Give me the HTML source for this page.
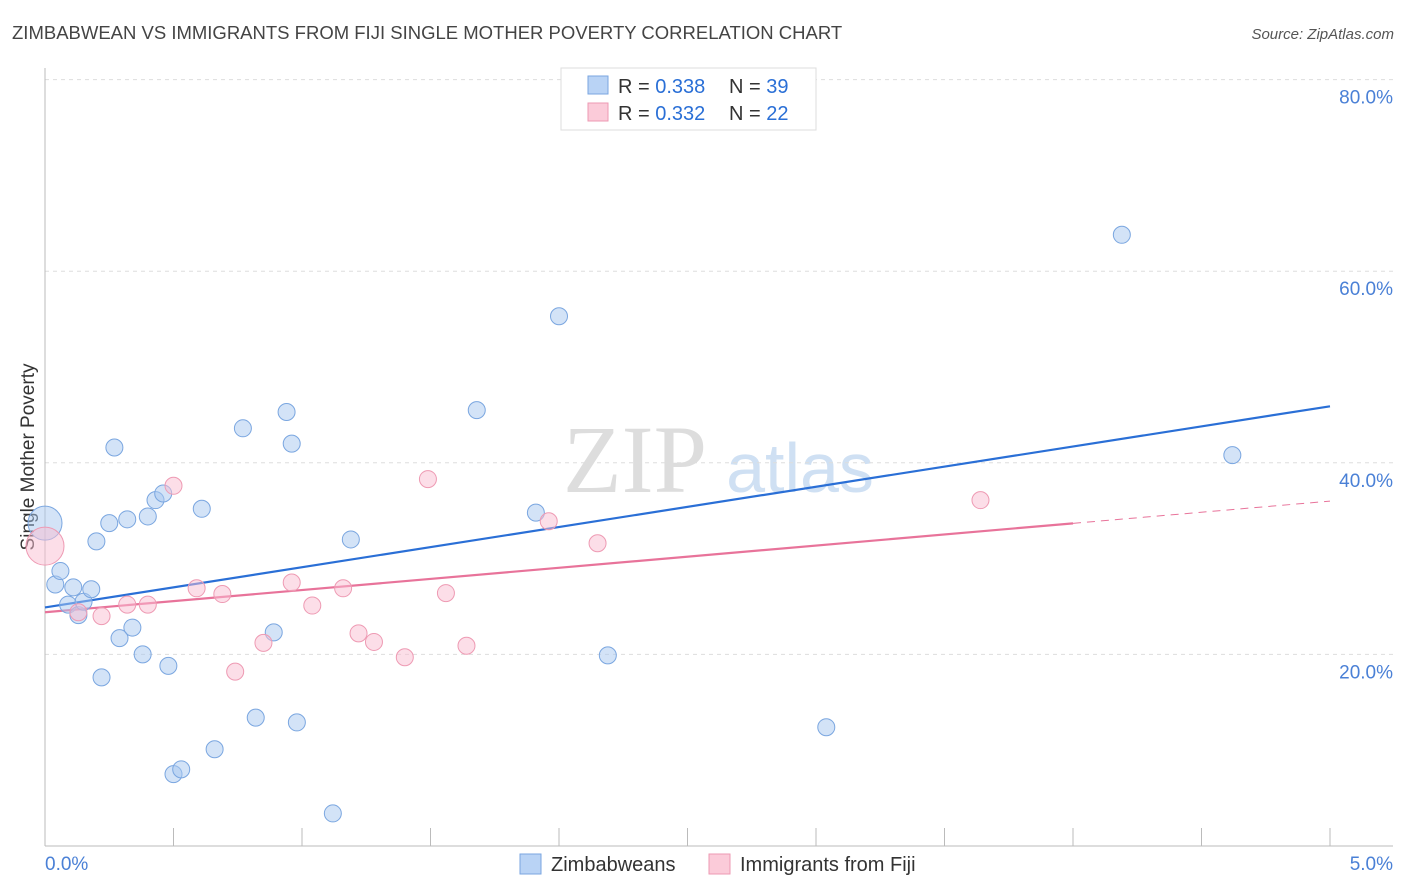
<!DOCTYPE html>
<html><head><meta charset="utf-8"><style>
body{margin:0;background:#fff;font-family:"Liberation Sans",sans-serif;}
svg{display:block}
</style></head><body>
<svg width="1406" height="892" id="chart">
<text x="12" y="39" font-size="18.5" fill="#444">ZIMBABWEAN VS IMMIGRANTS FROM FIJI SINGLE MOTHER POVERTY CORRELATION CHART</text>
<text x="1394" y="39" font-size="15" fill="#555" font-style="italic" text-anchor="end">Source: ZipAtlas.com</text>
<text x="635" y="492" font-size="96" fill="#ddd" font-family="Liberation Serif" text-anchor="middle">ZIP</text>
<text x="800" y="492" font-size="70" fill="#cfe0f3" text-anchor="middle">atlas</text>
<text transform="translate(34,457) rotate(-90)" font-size="19" fill="#333" text-anchor="middle">Single Mother Poverty</text>
<g id="grid"></g><g id="axes"></g><g id="trends"></g><g id="points"></g>
<g>
<rect x="561" y="68" width="255" height="62" fill="#fff" stroke="#ddd"/>
<rect x="588" y="76" width="20" height="18" fill="#b9d3f5" stroke="#7aa6e0"/>
<text x="618" y="93" font-size="20" fill="#333">R = <tspan fill="#2a6fd6">0.338</tspan></text>
<text x="729" y="93" font-size="20" fill="#333">N = <tspan fill="#2a6fd6">39</tspan></text>
<rect x="588" y="103" width="20" height="18" fill="#fbcbd9" stroke="#ee9ab3"/>
<text x="618" y="120" font-size="20" fill="#333">R = <tspan fill="#2a6fd6">0.332</tspan></text>
<text x="729" y="120" font-size="20" fill="#333">N = <tspan fill="#2a6fd6">22</tspan></text>
</g>
<g>
<rect x="520" y="854" width="21" height="20" fill="#b9d3f5" stroke="#7aa6e0"/>
<text x="551" y="871" font-size="20" fill="#333">Zimbabweans</text>
<rect x="709" y="854" width="21" height="20" fill="#fbcbd9" stroke="#ee9ab3"/>
<text x="740" y="871" font-size="20" fill="#333">Immigrants from Fiji</text>
</g>
</svg>
<script>
const blueX=[0,0.04,0.06,0.09,0.11,0.13,0.15,0.18,0.20,0.22,0.25,0.27,0.29,0.32,0.34,0.38,0.40,0.43,0.46,0.48,0.50,0.53,0.61,0.66,0.77,0.82,0.89,0.94,0.96,0.98,1.12,1.19,1.68,1.91,2.00,2.19,3.04,4.19,4.62];
const blueY=[33.7,27.3,28.7,25.2,27.0,24.1,25.5,26.8,31.8,17.6,33.7,41.6,21.7,34.1,22.8,20.0,34.4,36.1,36.8,18.8,7.5,8.0,35.2,10.1,43.6,13.4,22.3,45.3,42.0,12.9,3.4,32.0,45.5,34.8,55.3,19.9,12.4,63.8,40.8];
const pinkX=[0,0.13,0.22,0.32,0.40,0.50,0.59,0.69,0.74,0.85,0.96,1.04,1.16,1.22,1.28,1.40,1.49,1.56,1.64,1.96,2.15,3.64];
const pinkY=[31.3,24.4,24.0,25.2,25.2,37.6,26.9,26.3,18.2,21.2,27.5,25.1,26.9,22.2,21.3,19.7,38.3,26.4,20.9,33.9,31.6,36.1];
const blueTrend=[24.9,45.9];
const pinkTrend=[24.4,36.0];
const yTicks=[20,40,60,80];
const xTickLabels=["0.0%","5.0%"];
const X=v=>45+v*257, Y=v=>846-v*9.58;
const NS="http://www.w3.org/2000/svg";
function mk(tag,attrs,parent){const e=document.createElementNS(NS,tag);for(const k in attrs)e.setAttribute(k,attrs[k]);document.getElementById(parent).appendChild(e);return e;}
yTicks.forEach(t=>{
 const l=mk('line',{x1:45,x2:1393,y1:Y(t),y2:Y(t),stroke:'#ddd','stroke-dasharray':'4,4'},'grid');
 
 
 const tx=mk('text',{x:1393,y:Y(t)+24,'font-size':19,fill:'#4a80d6','text-anchor':'end'},'grid');
 tx.textContent=t.toFixed(1)+'%';
 
 
});
let a=mk('line',{x1:45,x2:45,y1:68,y2:846,stroke:'#bbb'},'axes');


a=mk('line',{x1:45,x2:1393,y1:846,y2:846,stroke:'#bbb'},'axes');


for(let i=0;i<=10;i++){const t=mk('line',{x1:X(i*0.5),x2:X(i*0.5),y1:828,y2:846,stroke:'#bbb'},'axes');
 
 }
let xl=mk('text',{x:45,y:870,'font-size':19,fill:'#4a80d6'},'axes');xl.textContent=xTickLabels[0];


xl=mk('text',{x:1393,y:870,'font-size':19,fill:'#4a80d6','text-anchor':'end'},'axes');xl.textContent=xTickLabels[1];


let tl=mk('line',{x1:X(0),y1:Y(blueTrend[0]),x2:X(5),y2:Y(blueTrend[1]),stroke:'#2a6fd6','stroke-width':2.2},'trends');


const pAt=v=>pinkTrend[0]+(pinkTrend[1]-pinkTrend[0])*v/5;
tl=mk('line',{x1:X(0),y1:Y(pAt(0)),x2:X(4),y2:Y(pAt(4)),stroke:'#e8739a','stroke-width':2.2},'trends');


tl=mk('line',{x1:X(4),y1:Y(pAt(4)),x2:X(5),y2:Y(pAt(5)),stroke:'#e8739a','stroke-width':1,'stroke-dasharray':'8,6'},'trends');


blueX.forEach((x,i)=>{const c=mk('circle',{cx:X(x),cy:Y(blueY[i]),r:i==0?17:8.5,fill:'rgba(168,200,240,0.5)',stroke:'#7aa6e0','stroke-width':1},'points');
 
 });
pinkX.forEach((x,i)=>{const c=mk('circle',{cx:X(x),cy:Y(pinkY[i]),r:i==0?19:8.5,fill:'rgba(250,190,210,0.5)',stroke:'#ee9ab3','stroke-width':1},'points');
 
 });
</script>
</body></html>
